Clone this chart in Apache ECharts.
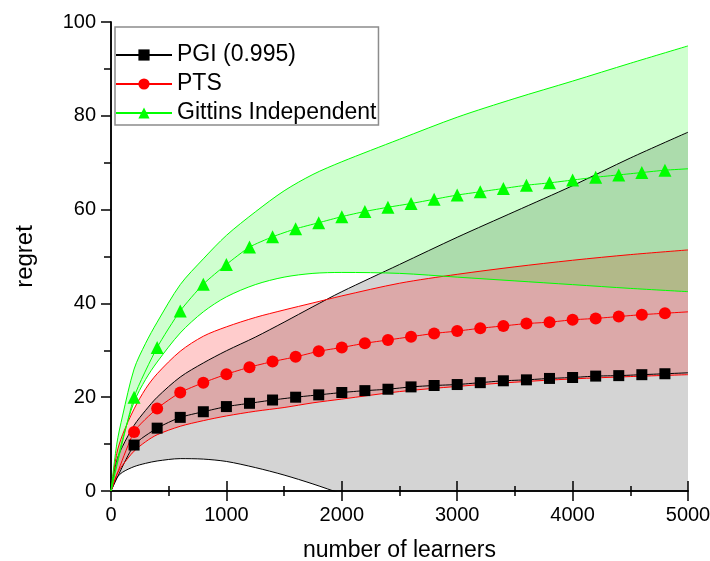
<!DOCTYPE html>
<html>
<head>
<meta charset="utf-8">
<title>Regret vs number of learners</title>
<script src="https://cdn.jsdelivr.net/npm/echarts@6/dist/echarts.min.js"></script>
<style>
  html, body { margin: 0; padding: 0; background: #ffffff; }
  #chart { width: 710px; height: 561px; }
</style>
</head>
<body>
<div id="chart"></div>
<script>
// Number of learners at which the mean regret is plotted (markers every 200, line runs to 5000)
const meanX = [0, 200, 400, 600, 800, 1000, 1200, 1400, 1600, 1800, 2000, 2200, 2400,
               2600, 2800, 3000, 3200, 3400, 3600, 3800, 4000, 4200, 4400, 4600, 4800, 5000];

const pgiMean = [0, 9.8, 13.4, 15.7, 16.9, 18.0, 18.7, 19.4, 20.0, 20.5, 21.0, 21.4, 21.7,
                 22.2, 22.5, 22.7, 23.1, 23.5, 23.7, 24.0, 24.2, 24.5, 24.6, 24.8, 25.0, 25.2];
const ptsMean = [0, 12.6, 17.6, 21.0, 23.1, 24.9, 26.4, 27.6, 28.6, 29.8, 30.6, 31.5, 32.2,
                 32.9, 33.6, 34.1, 34.7, 35.2, 35.7, 36.0, 36.5, 36.8, 37.2, 37.6, 37.9, 38.2];
const gitMean = [0, 20.0, 30.6, 38.4, 44.1, 48.3, 52.0, 54.2, 55.9, 57.2, 58.5, 59.6, 60.5,
                 61.3, 62.2, 63.1, 63.8, 64.5, 65.2, 65.7, 66.3, 66.9, 67.4, 67.9, 68.4, 68.7];

// Spread bands (lower / upper bound of the regret)
const bandX = [0, 50, 100, 200, 300, 400, 600, 800, 1000, 1250, 1500, 1750, 2000,
               2500, 3000, 3500, 4000, 4500, 5000];

const pgiUpper = [0, 6.5, 9.5, 14.0, 17.2, 20.0, 24.3, 27.3, 29.9, 32.8, 36.0, 39.3, 42.5,
                  48.3, 54.1, 59.6, 65.1, 71.0, 76.5];
const pgiLower = [0, 2.8, 4.0, 5.2, 5.9, 6.4, 6.9, 6.8, 6.3, 5.0, 3.4, 1.5, -0.6,
                  -4.6, -8.7, -12.8, -17.1, -21.8, -26.1];
const ptsUpper = [0, 8.0, 12.0, 17.5, 21.8, 25.0, 29.8, 33.0, 35.0, 37.0, 38.6, 40.1, 41.6,
                  44.3, 46.2, 47.8, 49.2, 50.4, 51.4];
const ptsLower = [0, 3.5, 5.5, 8.5, 10.5, 12.0, 13.8, 15.0, 16.0, 17.0, 17.8, 18.8, 19.6,
                  21.2, 22.3, 23.2, 23.9, 24.4, 24.8];
const gitUpper = [0, 10.0, 16.0, 26.0, 31.5, 36.0, 44.0, 49.5, 54.5, 59.5, 64.0, 67.5, 70.2,
                  75.0, 79.7, 83.7, 87.4, 91.2, 94.9];
const gitLower = [0, 6.0, 11.0, 19.0, 23.8, 27.5, 33.7, 38.2, 41.4, 44.0, 45.6, 46.4, 46.6,
                  46.4, 45.6, 44.8, 44.0, 43.2, 42.5];

const seriesNames = ['PGI (0.995)', 'PTS', 'Gittins Independent'];

const FONT = '"Liberation Sans", Arial, Helvetica, sans-serif';
const SMOOTH = 0.3;
// hidden helper axis used by the bands, so that stacking runs along y
const BAND_X_AXIS = 2;

// mean curve: markers on the sampled points, bare line at both ends
function meanData(ys) {
  return meanX.map((x, i) => {
    const item = { value: [x, ys[i]] };
    if (i === 0 || i === meanX.length - 1) item.symbol = 'none';
    return item;
  });
}

// band = lower bound line + (upper - lower) stacked on top with a translucent fill
function bandSeries(key, lower, upper, lineColor, fillColor) {
  const common = {
    type: 'line',
    xAxisIndex: BAND_X_AXIS,
    yAxisIndex: 0,
    stack: key,
    stackStrategy: 'all',
    smooth: SMOOTH,
    symbol: 'none',
    silent: true,
    lineStyle: { color: lineColor, width: 1 }
  };
  return [
    Object.assign({}, common, {
      name: key + '-lower',
      data: bandX.map((x, i) => [x, lower[i]])
    }),
    Object.assign({}, common, {
      name: key + '-upper',
      areaStyle: { color: fillColor, opacity: 1 },
      data: bandX.map((x, i) => [x, upper[i] - lower[i]])
    })
  ];
}

function meanSeries(name, ys, color, symbol, size) {
  return {
    name: name,
    type: 'line',
    xAxisIndex: 0,
    yAxisIndex: 0,
    smooth: 0.2,
    symbol: symbol,
    symbolSize: size,
    lineStyle: { color: color, width: 1 },
    itemStyle: { color: color },
    data: meanData(ys)
  };
}

const chart = echarts.init(document.getElementById('chart'), null, { renderer: 'canvas' });

const axisLine = { show: true, lineStyle: { color: '#000', width: 1.5 } };
const majorTick = { show: true, inside: false, length: 10, lineStyle: { color: '#000', width: 1.5 } };
const minorTick = { show: true, splitNumber: 2, length: 5, lineStyle: { color: '#000', width: 1.5 } };

chart.setOption({
  animation: false,
  backgroundColor: '#ffffff',
  textStyle: { fontFamily: FONT },
  grid: { left: 111, right: 22, top: 22, bottom: 70, containLabel: false, outerBoundsMode: 'none' },
  legend: {
    data: seriesNames,
    orient: 'vertical',
    left: 115,
    top: 27,
    padding: [16, 2, 0, 0],
    itemGap: 5,
    itemWidth: 56,
    itemHeight: 14,
    backgroundColor: '#ffffff',
    borderColor: '#8c8c8c',
    borderWidth: 1.5,
    borderRadius: 0,
    textStyle: { fontFamily: FONT, fontSize: 23, color: '#000', lineHeight: 24 }
  },
  xAxis: [
    {
      type: 'value', position: 'bottom',
      min: 0, max: 5000, interval: 1000,
      name: 'number of learners', nameLocation: 'middle', nameGap: 48,
      nameTextStyle: { fontFamily: FONT, fontSize: 23, color: '#000' },
      axisLine: axisLine,
      axisTick: majorTick,
      minorTick: minorTick,
      axisLabel: { fontFamily: FONT, fontSize: 20, color: '#000', margin: 14, formatter: v => String(v) },
      splitLine: { show: false }
    },
    {
      type: 'value', position: 'top',
      min: 0, max: 5000, interval: 1000,
      axisLine: axisLine,
      axisTick: majorTick,
      minorTick: minorTick,
      axisLabel: { show: false },
      splitLine: { show: false }
    },
    {
      type: 'time', show: false,
      min: 0, max: 5000
    }
  ],
  yAxis: [
    {
      type: 'value', position: 'left',
      min: 0, max: 100, interval: 20,
      name: 'regret', nameLocation: 'middle', nameGap: 74, nameRotate: 90,
      nameTextStyle: { fontFamily: FONT, fontSize: 24, color: '#000' },
      axisLine: axisLine,
      axisTick: majorTick,
      minorTick: minorTick,
      axisLabel: { fontFamily: FONT, fontSize: 20, color: '#000', margin: 15 },
      splitLine: { show: false }
    },
    {
      type: 'value', position: 'right',
      min: 0, max: 100, interval: 10,
      axisLine: axisLine,
      axisTick: { show: true, inside: true, length: 7, lineStyle: { color: '#000', width: 1.5 } },
      axisLabel: { show: false },
      splitLine: { show: false }
    }
  ],
  series: [
    ...bandSeries('pgi', pgiLower, pgiUpper, '#000000', 'rgba(0,0,0,0.17)'),
    meanSeries(seriesNames[0], pgiMean, '#000000', 'rect', 11),
    ...bandSeries('pts', ptsLower, ptsUpper, '#ff0000', 'rgba(255,0,0,0.2)'),
    meanSeries(seriesNames[1], ptsMean, '#ff0000', 'circle', 12),
    ...bandSeries('git', gitLower, gitUpper, '#00ff00', 'rgba(0,255,0,0.19)'),
    meanSeries(seriesNames[2], gitMean, '#00ff00', 'triangle', 13)
  ]
});
</script>
</body>
</html>
